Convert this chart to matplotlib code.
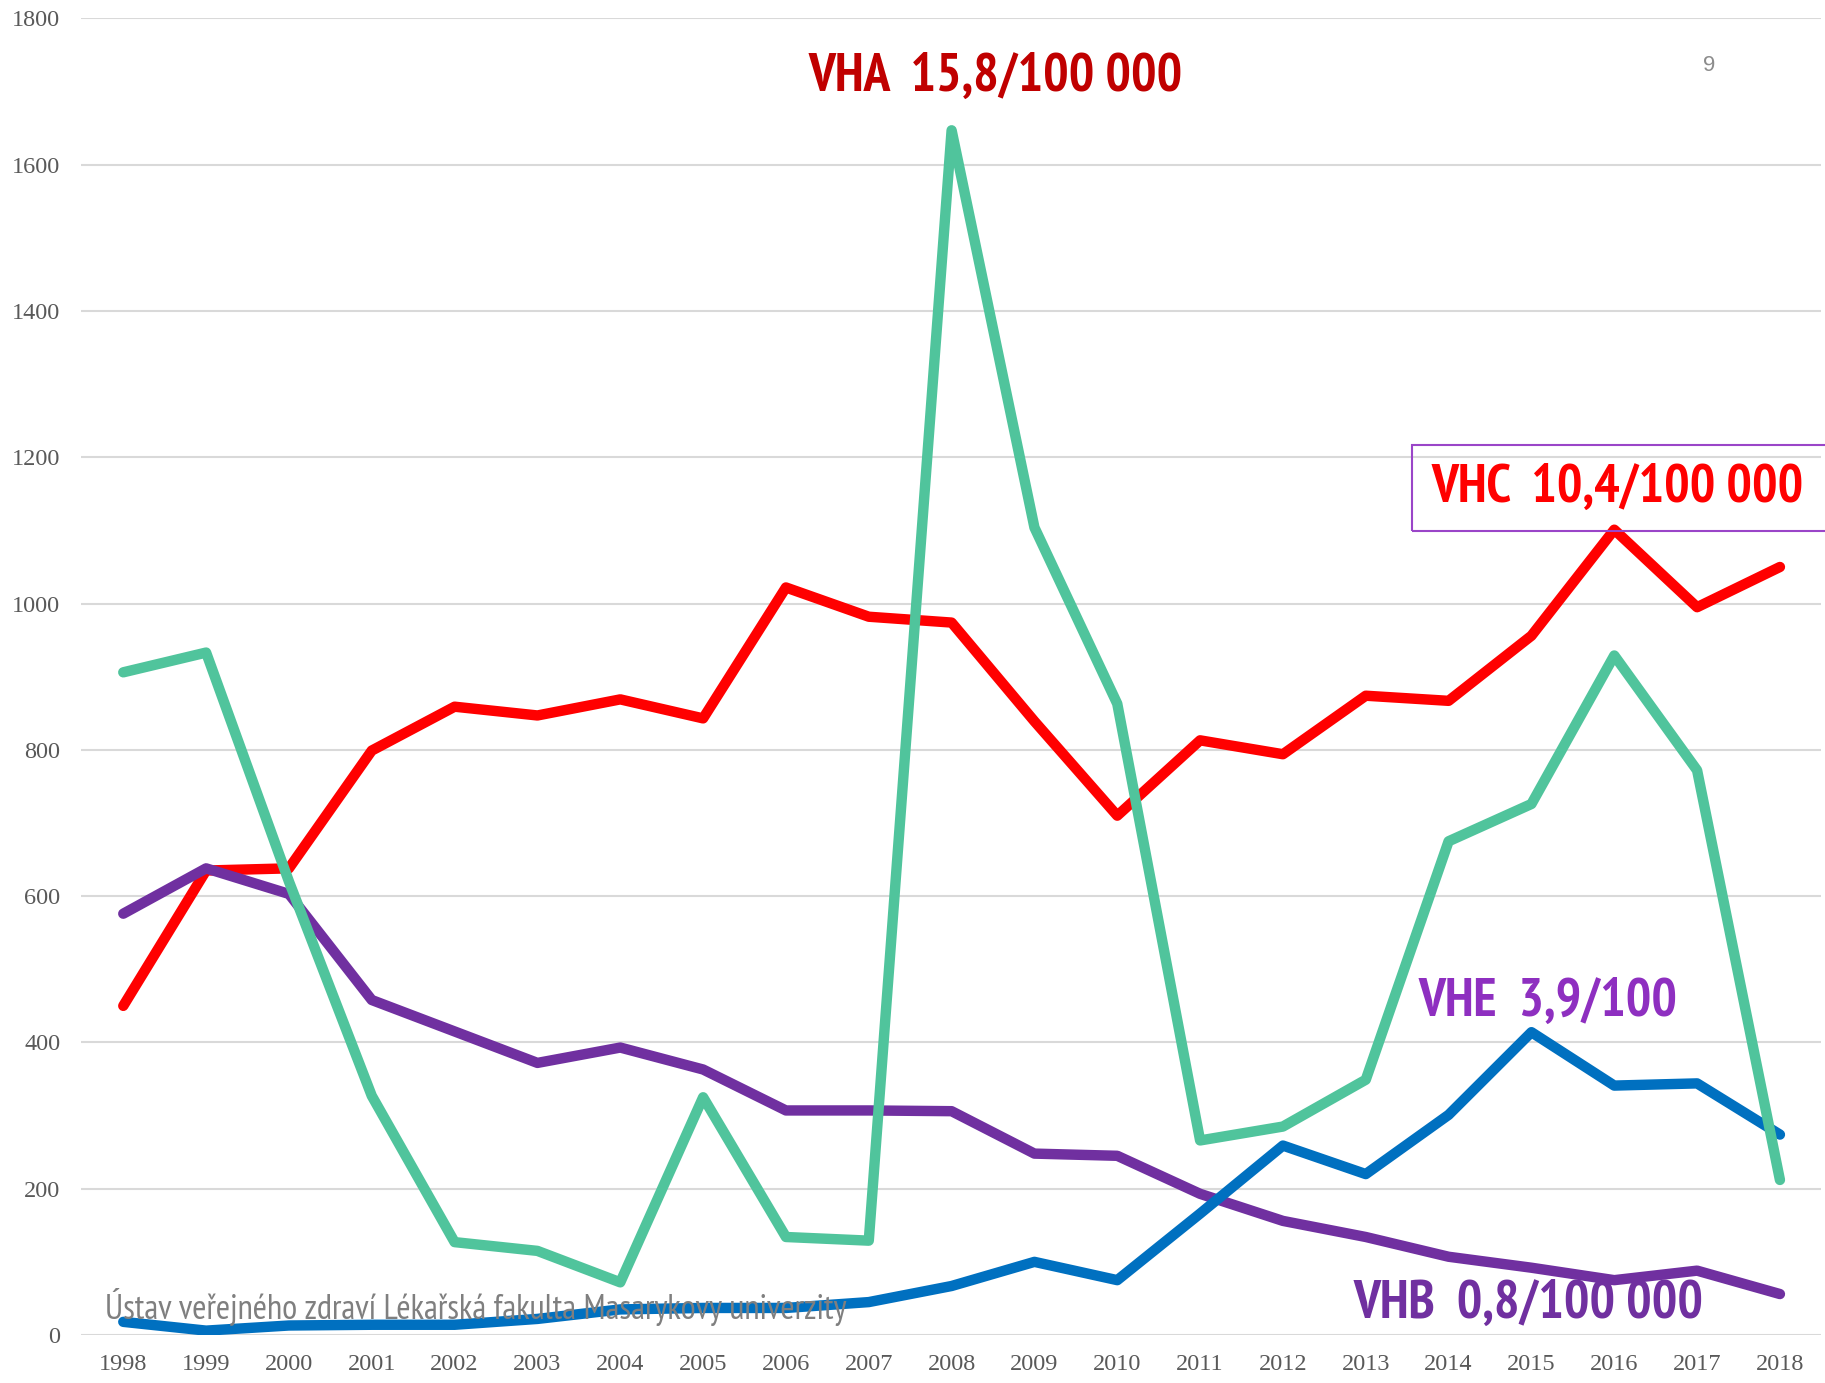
import matplotlib.pyplot as plt
from matplotlib.patches import Rectangle

years = list(range(1998, 2019))

# VHA (green)
vha = [906, 933, 620, 327, 127, 115, 72, 325, 134, 129, 1647, 1104, 863, 266, 285, 349, 675, 726, 929, 772, 212]
# VHC (red)
vhc = [450, 635, 638, 799, 859, 847, 869, 843, 1022, 982, 974, 839, 710, 813, 794, 874, 867, 956, 1101, 995, 1050]
# VHB (purple)
vhb = [576, 638, 603, 458, 415, 372, 393, 363, 307, 307, 306, 248, 245, 193, 156, 134, 107, 92, 75, 88, 56]
# VHE (blue)
vhe = [18, 6, 13, 14, 14, 22, 35, 37, 37, 45, 67, 100, 75, 166, 259, 220, 301, 414, 341, 344, 274]

yticks = [0, 200, 400, 600, 800, 1000, 1200, 1400, 1600, 1800]

narrow = ['Liberation Sans Narrow', 'Arial Narrow', 'PT Sans Narrow', 'Roboto Condensed',
          'Archivo Narrow', 'Liberation Sans']

fig = plt.figure(figsize=(18.25, 13.83), dpi=100)
ax = fig.add_axes([0.0444, 0.0347, 0.9536, 0.952])

lw = 7.5
ax.plot(years, vhc, color='#ff0000', lw=lw, solid_capstyle='round', zorder=3)
ax.plot(years, vhb, color='#7030a0', lw=lw, solid_capstyle='round', zorder=3)
ax.plot(years, vhe, color='#0070c0', lw=lw, solid_capstyle='round', zorder=4)
ax.plot(years, vha, color='#50c49c', lw=lw, solid_capstyle='round', zorder=5)

ax.set_xlim(1997.49, 2018.5)
ax.set_ylim(0, 1800)
ax.set_xticks(years)
ax.set_xticklabels([str(y) for y in years])
ax.set_yticks(yticks)
ax.yaxis.grid(True, color='#d9d9d9', lw=1.5)
ax.set_axisbelow(True)
for s in ax.spines.values():
    s.set_visible(False)
ax.tick_params(length=0, labelsize=17.5, labelcolor='#595959')
ax.tick_params(axis='x', pad=14)
ax.tick_params(axis='y', pad=15)
for lab in ax.get_xticklabels() + ax.get_yticklabels():
    lab.set_family('Liberation Serif')

# annotations
ax.text(2008.53, 1719, 'VHA  15,8/100 000', color='#c00000', fontsize=38.6, fontweight='bold',
        family=narrow, ha='center', va='center', zorder=6)
ax.add_patch(Rectangle((2013.56, 1099), 6, 118, fill=False, edgecolor='#9a45c8', lw=1.5,
                       clip_on=False, zorder=6))
ax.text(2016.04, 1157, 'VHC  10,4/100 000', color='#ff0000', fontsize=38.6, fontweight='bold',
        family=narrow, ha='center', va='center', zorder=6)
ax.text(2015.20, 455, 'VHE  3,9/100', color='#8e2fc0', fontsize=38.6, fontweight='bold',
        family=narrow, ha='center', va='center', zorder=6)
ax.text(2014.97, 42, 'VHB  0,8/100 000', color='#7030a0', fontsize=38.6, fontweight='bold',
        family=narrow, ha='center', va='center', zorder=6)
ax.text(2017.15, 1735, '9', color='#8c8c8c', fontsize=16, family='Liberation Sans',
        ha='center', va='center')
ax.text(2002.26, 38, 'Ústav veřejného zdraví Lékařská fakulta Masarykovy univerzity', color='#7f7f7f',
        fontsize=24.8, family=narrow, ha='center', va='center', zorder=7)

fig.savefig('out.png', dpi=100)
